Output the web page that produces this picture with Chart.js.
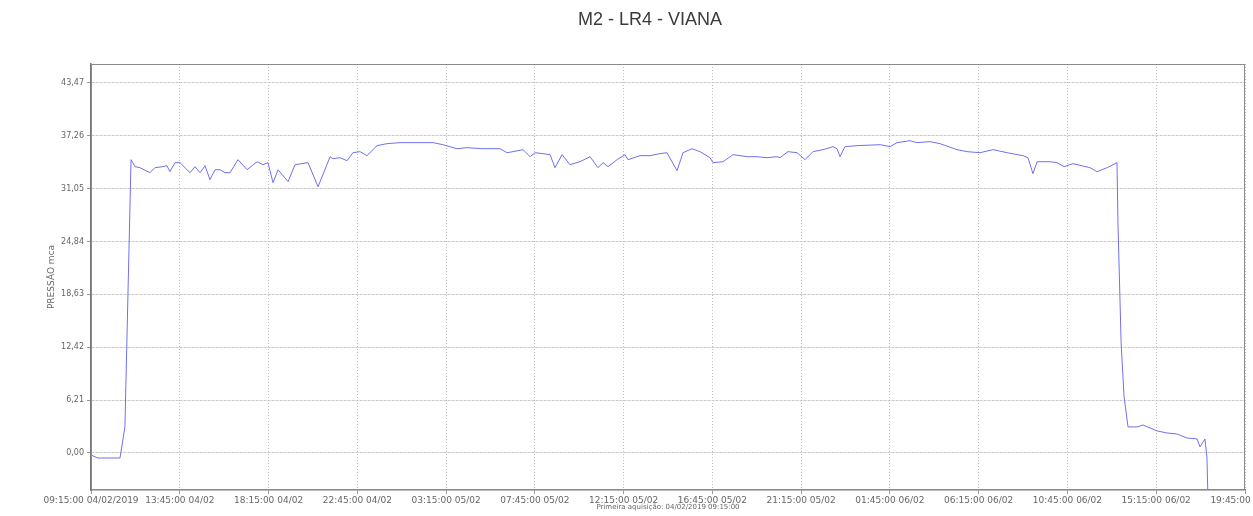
<!DOCTYPE html>
<html><head><meta charset="utf-8">
<script src="https://cdn.jsdelivr.net/npm/chart.js@4"></script>
<style>html,body{margin:0;padding:0;background:#fff;overflow:hidden}</style>
</head><body>
<canvas id="c" width="1253" height="516"></canvas>
<script>
const chartTitle = 'M2 - LR4 - VIANA';
const yAxisTitle = 'PRESSÃO mca';
const xAxisTitle = 'Primeira aquisição: 04/02/2019 09:15:00';

// hours elapsed since 04/02/2019 09:15:00
const hours = [0,0.35,1.47,1.72,2.03,2.23,2.48,2.99,3.24,3.65,
3.85,4.00,4.26,4.51,5.02,5.27,5.53,5.78,6.03,6.29,
6.54,6.79,7.05,7.45,7.91,8.42,8.72,8.97,9.23,9.48,
9.99,10.34,11.00,11.51,12.12,12.27,12.62,12.98,13.28,13.64,
13.99,14.50,15.01,15.66,16.53,17.34,17.84,18.55,19.06,19.87,
20.73,21.09,21.39,21.90,22.26,22.51,22.91,23.27,23.52,23.88,
24.28,24.79,25.30,25.70,25.96,26.21,26.67,27.07,27.22,27.83,
28.34,28.85,29.20,29.45,29.71,30.01,30.47,30.87,31.38,31.53,
32.04,32.55,33.26,33.76,34.27,34.78,34.93,35.33,35.79,36.20,
36.60,37.11,37.62,37.82,37.97,38.22,38.83,40.00,40.51,40.86,
41.52,41.87,42.53,43.04,43.90,44.41,45.07,45.73,46.44,47.25,
47.50,47.75,47.96,48.62,48.97,49.33,49.78,50.64,51.00,51.51,
51.81,52.01,52.06,52.22,52.37,52.57,53.03,53.33,54.04,54.55,
55.05,55.56,56.07,56.22,56.47,56.57,56.63];

const pressure = [-0.24,-0.59,-0.59,3.06,34.46,33.64,33.52,32.93,33.52,33.64,
33.75,33.05,34.11,34.11,32.93,33.64,32.93,33.75,32.11,33.28,
33.28,32.93,32.93,34.46,33.28,34.22,33.87,34.11,31.75,33.28,
31.87,33.87,34.11,31.28,34.81,34.58,34.69,34.34,35.28,35.40,
34.93,36.11,36.34,36.46,36.46,36.46,36.22,35.75,35.87,35.75,
35.75,35.28,35.40,35.64,34.81,35.28,35.17,35.05,33.52,35.05,
33.87,34.22,34.81,33.52,34.11,33.64,34.46,35.05,34.46,34.93,
34.93,35.17,35.28,34.22,33.17,35.28,35.75,35.40,34.69,34.11,
34.22,35.05,34.81,34.81,34.69,34.81,34.69,35.40,35.28,34.46,
35.40,35.64,35.99,35.75,34.81,35.99,36.11,36.22,35.99,36.46,
36.69,36.46,36.58,36.34,35.64,35.40,35.28,35.64,35.28,34.93,
34.69,32.81,34.22,34.22,34.11,33.64,33.99,33.52,33.05,33.52,
33.87,34.11,27.05,12.94,6.59,3.06,3.06,3.29,2.59,2.35,
2.23,1.76,1.65,0.71,1.65,-0.47,-6.00];

const xTickHours = [0,4.5,9,13.5,18,22.5,27,31.5,36,40.5,45,49.5,54,58.5];
const xTickLabels = ['09:15:00 04/02/2019','13:45:00 04/02','18:15:00 04/02','22:45:00 04/02',
'03:15:00 05/02','07:45:00 05/02','12:15:00 05/02','16:45:00 05/02','21:15:00 05/02',
'01:45:00 06/02','06:15:00 06/02','10:45:00 06/02','15:15:00 06/02','19:45:00 06/02'];
const yTickValues = [0,6.21,12.42,18.63,24.84,31.05,37.26,43.47];
const yTickLabels = ['0,00','6,21','12,42','18,63','24,84','31,05','37,26','43,47'];

const points = hours.map((h,i)=>({x:h,y:pressure[i]}));

const deco = {
  id:'deco',
  afterDraw(chart){
    const {ctx, chartArea:a} = chart;
    ctx.save();
    ctx.strokeStyle = '#8a8a8a';
    ctx.lineWidth = 1;
    ctx.strokeRect(a.left+0.5, a.top+0.5, a.right-a.left-1, a.bottom-a.top-1);
    ctx.fillStyle = '#3a3a3a';
    ctx.font = '18px "Liberation Sans", Arial, sans-serif';
    ctx.textAlign = 'center';
    ctx.textBaseline = 'middle';
    ctx.fillText(chartTitle, 650, 20);
    ctx.restore();
  }
};

new Chart(document.getElementById('c'), {
  type:'line',
  data:{datasets:[{data:points, borderColor:'#7070ee', borderWidth:1, pointRadius:0, tension:0, fill:false}]},
  options:{
    responsive:false, animation:false, devicePixelRatio:1,
    layout:{padding:{top:64,right:8,left:0,bottom:0}},
    plugins:{legend:{display:false}, tooltip:{enabled:false}, title:{display:false}},
    scales:{
      x:{type:'linear', min:0, max:58.5,
        afterBuildTicks:s=>{s.ticks = xTickHours.map(v=>({value:v}));},
        afterFit:s=>{s.height=26; s.paddingLeft=0; s.paddingRight=0;},
        ticks:{autoSkip:false, maxRotation:0, minRotation:0, padding:1, color:'#666',
          font:{family:'"DejaVu Sans"', size:9}, callback:(v,i)=>xTickLabels[i]},
        grid:{color:'#bdbdbd', tickLength:4, tickColor:'#999'},
        border:{color:'#777', width:1.5, dash:[1,2]},
        title:{display:true, text:xAxisTitle, color:'#666', font:{family:'"DejaVu Sans"', size:7}, padding:{top:0,bottom:5}}
      },
      y:{type:'linear', min:-4.35, max:45.7,
        afterBuildTicks:s=>{s.ticks = yTickValues.map(v=>({value:v}));},
        afterFit:s=>{s.width=91; s.paddingTop=0; s.paddingBottom=0;},
        ticks:{autoSkip:false, padding:3, color:'#666',
          font:{family:'"DejaVu Sans"', size:8}, callback:(v,i)=>yTickLabels[i]},
        grid:{color:'#c8c8c8', tickLength:4, tickColor:'#999'},
        border:{color:'#777', width:1.5, dash:[3,1]},
        title:{display:true, text:yAxisTitle, color:'#666', font:{family:'"DejaVu Sans"', size:9}, padding:{top:46,bottom:0}}
      }
    }
  },
  plugins:[deco]
});
</script>
</body></html>
